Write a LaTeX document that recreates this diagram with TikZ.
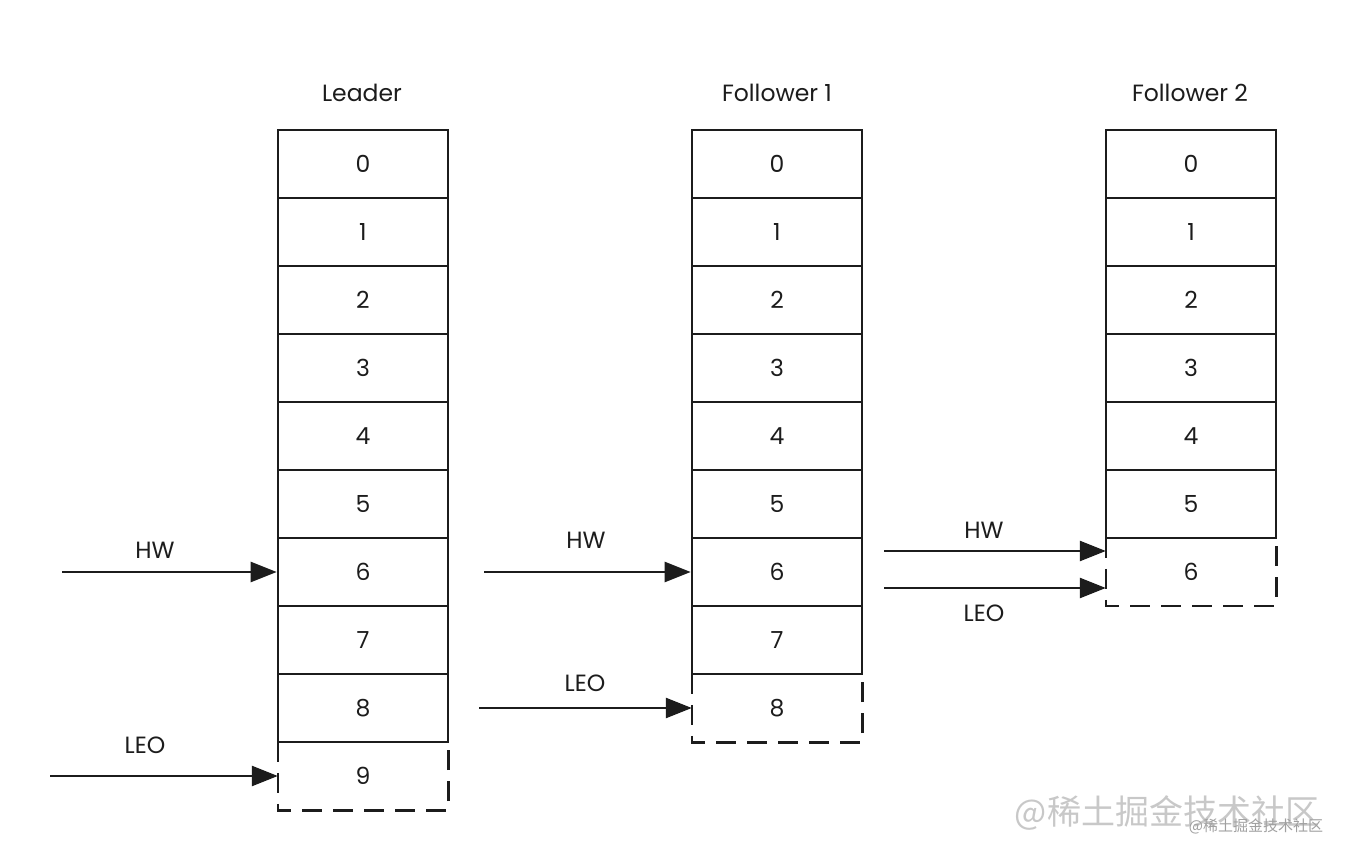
\documentclass[tikz,border=0pt]{standalone}
\usepackage{fontspec}
\setmainfont{Poppins}
\newfontfamily\cjk{Noto Sans CJK SC}
\usetikzlibrary{arrows.meta}
\definecolor{ink}{HTML}{1C1C1C}
\definecolor{wm}{HTML}{C8C8C8}
\tikzset{
  cellbox/.style={draw=ink, line width=2.6pt, minimum width=170pt, minimum height=68pt, inner sep=0pt, font=\fontsize{23.5}{27}\selectfont, text=ink},
  freshbox/.style={minimum width=170pt, minimum height=68pt, inner sep=0pt, font=\fontsize{23.5}{27}\selectfont, text=ink},
  dashline/.style={draw=ink, line width=2.6pt, dash pattern=on 20pt off 11pt},
  ptr/.style={draw=ink, line width=2.6pt, -{Triangle[length=26pt,width=20pt]}},
  lbl/.style={font=\fontsize{23.5}{27}\selectfont, text=ink, inner sep=0pt},
}
\begin{document}
\begin{tikzpicture}[x=1pt,y=1pt]
\useasboundingbox (0,0) rectangle (1360,860);
\fill[white] (0,0) rectangle (1360,860);

% Titles
\node[lbl] (tL) at (362,767) {Leader};
\node[lbl] (tF1) at (777,767) {Follower 1};
\node[lbl] (tF2) at (1190,767) {Follower 2};

% Leader: cells 0..8 solid, 9 dashed
\foreach \i in {0,...,8} {
  \node[cellbox] (L\i) at (363,{860-164-68*\i}) {\i};
}
\node[freshbox] (L9) at (363,{860-164-68*9}) {9};
\draw[dashline] (L9.north west) -- (L9.south west) -- (L9.south east) -- (L9.north east);

% Follower 1: cells 0..7 solid, 8 dashed
\foreach \i in {0,...,7} {
  \node[cellbox] (F\i) at (777,{860-164-68*\i}) {\i};
}
\node[freshbox] (F8) at (777,{860-164-68*8}) {8};
\draw[dashline] (F8.north west) -- (F8.south west) -- (F8.south east) -- (F8.north east);

% Follower 2: cells 0..5 solid, 6 dashed
\foreach \i in {0,...,5} {
  \node[cellbox] (G\i) at (1191,{860-164-68*\i}) {\i};
}
\node[freshbox] (G6) at (1191,{860-164-68*6}) {6};
\draw[dashline] (G6.north west) -- (G6.south west) -- (G6.south east) -- (G6.north east);

% Pointers
\coordinate (aLH) at (62,288);
\coordinate (aLL) at (50,84);
\coordinate (aFH) at (484,288);
\coordinate (aFL) at (479,152);
\coordinate (aGH) at (884,309);
\coordinate (aGL) at (884,272);

\draw[ptr] (aLH) -- (L6.west);
\draw[ptr] (aLL) -- (L9.west);
\draw[ptr] (aFH) -- (F6.west);
\draw[ptr] (aFL) -- (F8.west);
\draw[ptr] (aGH) -- (G6.north west |- aGH);
\draw[ptr] (aGL) -- (G6.north west |- aGL);

\node[lbl] (hwL) at (155,310) {HW};
\node[lbl] (leoL) at (145,115) {LEO};
\node[lbl] (hwF) at (586,320) {HW};
\node[lbl] (leoF) at (585,177) {LEO};
\node[lbl] (hwG) at (984,330) {HW};
\node[lbl] (leoG) at (984,247) {LEO};

% Watermark
\node[inner sep=0pt, text=wm, font=\cjk\fontsize{34}{36}\selectfont] (wm1) at (1167,47) {@稀土掘金技术社区};
\node[inner sep=0pt, text=wm!80!black, font=\cjk\fontsize{15}{17}\selectfont] (wm2) at (1256,34) {@稀土掘金技术社区};
\end{tikzpicture}
\end{document}
